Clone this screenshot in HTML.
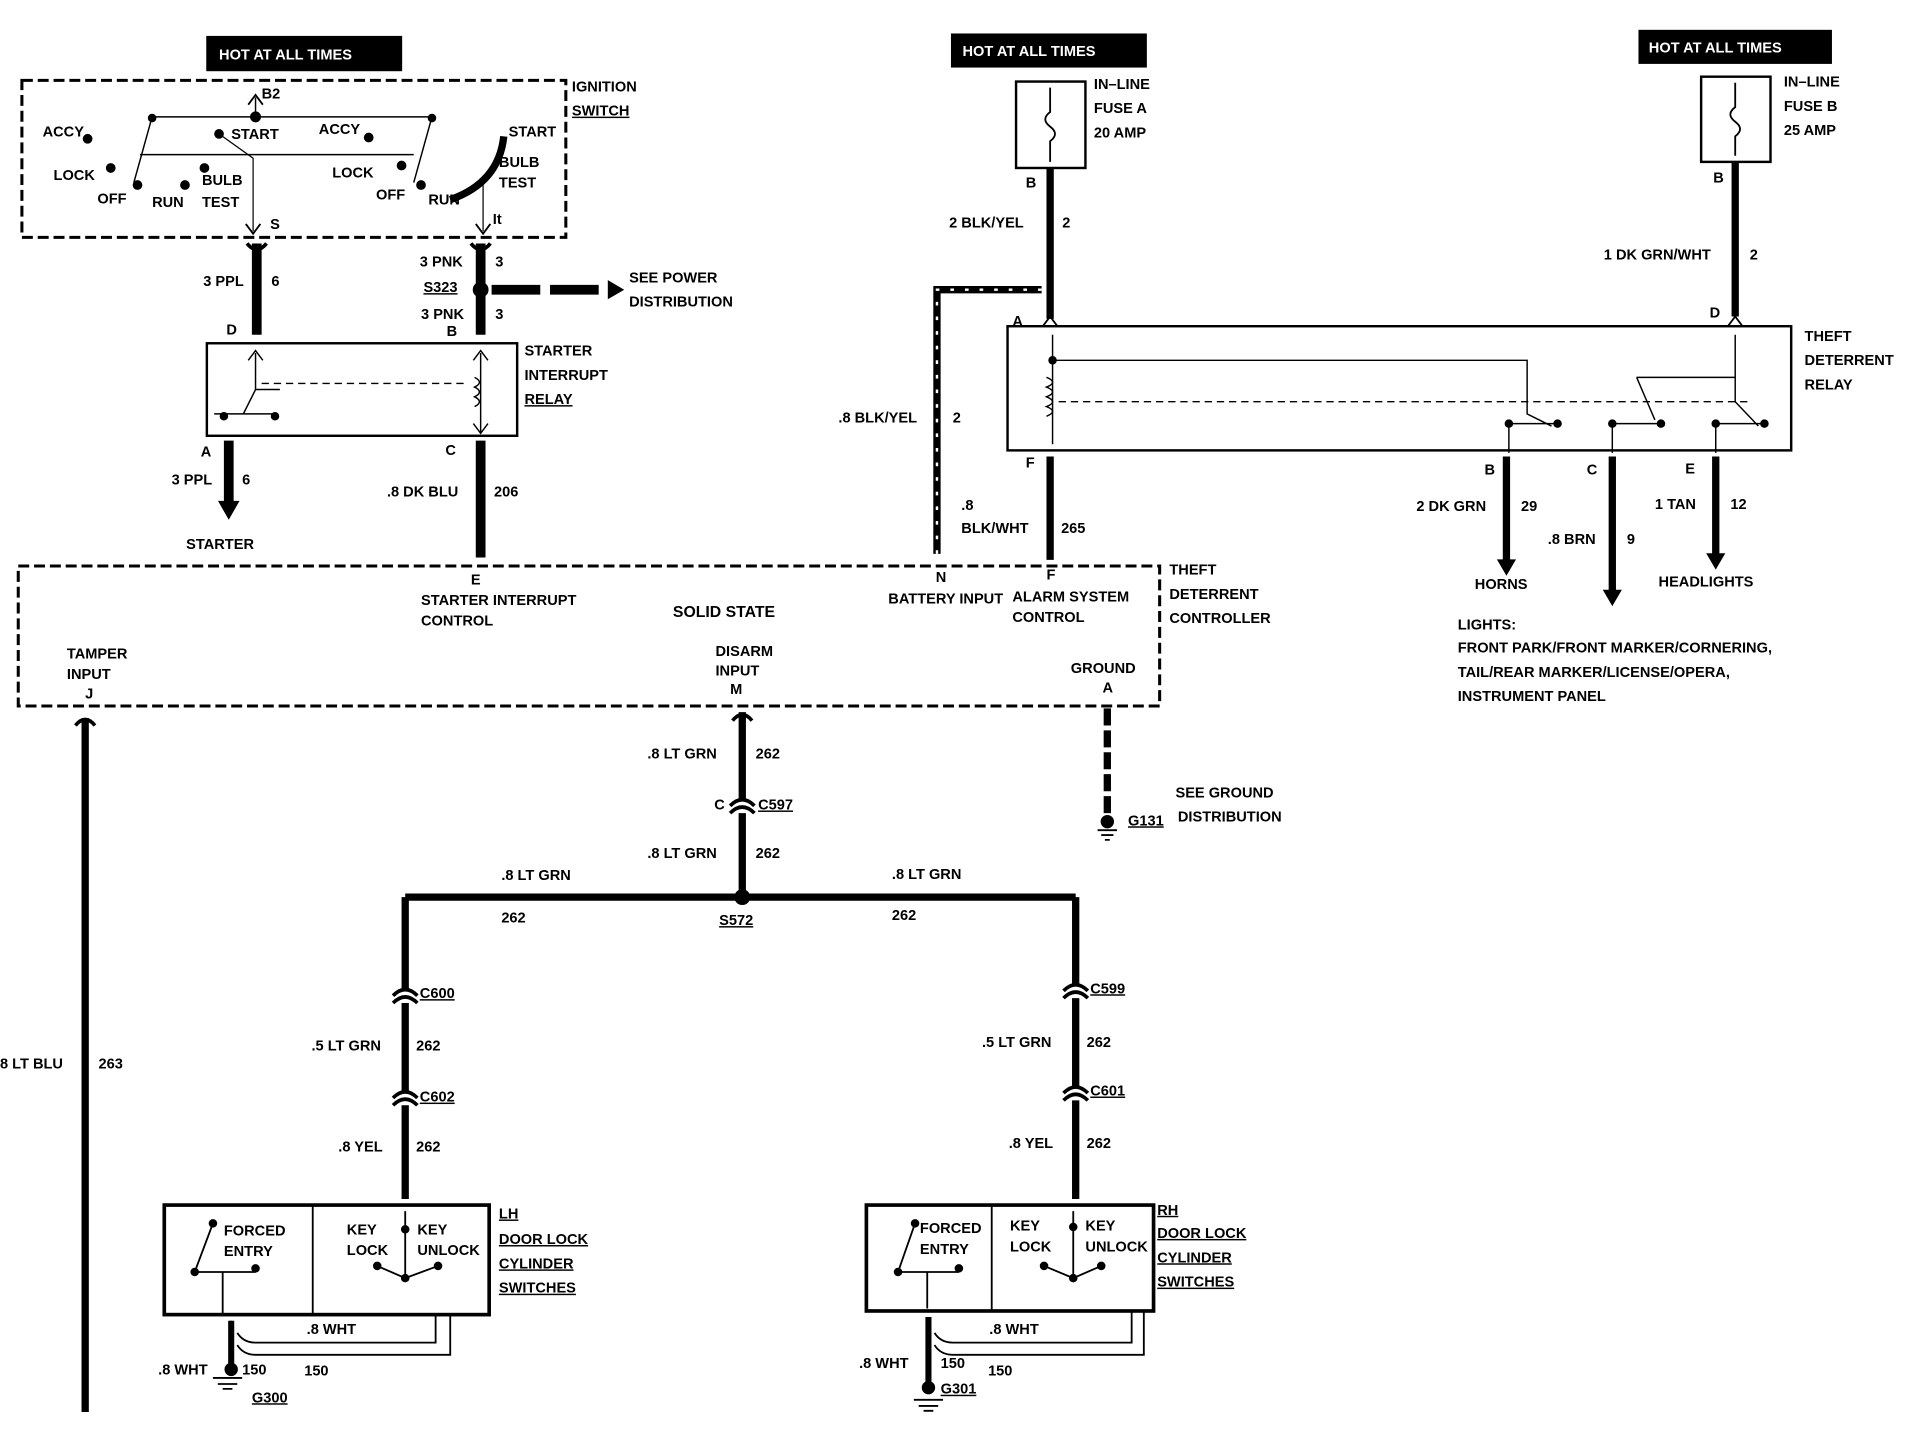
<!DOCTYPE html>
<html><head><meta charset="utf-8"><style>
html,body{margin:0;padding:0;background:#fff;}
svg{display:block}
text{font-family:"Liberation Sans",sans-serif;font-weight:bold;font-size:12px;fill:#000}
.u{text-decoration:underline}
</style></head><body>
<svg width="1908" height="1440" viewBox="0 0 1568 1183" preserveAspectRatio="none" xmlns="http://www.w3.org/2000/svg">
<g stroke="#000" fill="none">
<rect x="170" y="30" width="160" height="28" fill="#000"/>
<rect x="782" y="28" width="160" height="27" fill="#000"/>
<rect x="1347" y="25" width="158" height="27" fill="#000"/>
<rect x="18" y="66" width="447" height="129" stroke-width="2.5" stroke-dasharray="9,4"/>
<path d="M210 80 V96 M125 96 H355 M125 96 L110 150 M355 96 L340 150 M115 127 H340" stroke-width="1.2"/>
<path d="M204 86 L210 78 L216 86 M202 184 L208 192 L214 184 M391 184 L397 192 L403 184" stroke-width="1.5"/>
<path d="M180 110 L208 130 V190" stroke-width="1"/>
<path d="M414 112 Q410 150 370 164" stroke-width="6"/>
<path d="M397 150 V190" stroke-width="1"/>
<g fill="#000"><circle cx="210" cy="96" r="4"/><circle cx="125" cy="97" r="3"/><circle cx="355" cy="97" r="3"/><circle cx="72" cy="114" r="3.5"/><circle cx="91" cy="138" r="3.5"/><circle cx="113" cy="152" r="3.5"/><circle cx="152" cy="152" r="3.5"/><circle cx="168" cy="138" r="3.5"/><circle cx="180" cy="110" r="3.5"/><circle cx="303" cy="113" r="3.5"/><circle cx="330" cy="136" r="3.5"/><circle cx="346" cy="152" r="3.5"/></g>
<path d="M211 200 V275 M395 200 V275 M395 362 V458 M188 362 V415" stroke-width="8"/>
<path d="M203 200 Q211 210 219 200 M387 200 Q395 210 403 200" stroke-width="3"/>
<path d="M180 412 L188 426 L196 412 Z" fill="#000"/>
<path d="M404 238 H500" stroke-width="8" stroke-dasharray="40,8"/>
<path d="M500 231 L512 238 L500 245 Z" fill="#000"/>
<circle cx="395" cy="238" r="6" fill="#000"/>
<rect x="170" y="282" width="255" height="76" stroke-width="2"/>
<path d="M210 290 V320 L200 340 M210 320 H230 M176 340 H228 M395 290 V355" stroke-width="1.2"/>
<path d="M390 310 q8 4 0 8 q8 4 0 8 q8 4 0 8" stroke-width="1.2"/>
<path d="M204 296 L210 288 L216 296 M389 296 L395 288 L401 296 M389 348 L395 356 L401 348" stroke-width="1.2"/>
<path d="M215 315 H385" stroke-dasharray="6,4" stroke-width="1.2"/>
<circle cx="184" cy="342" r="3" fill="#000"/><circle cx="226" cy="342" r="3" fill="#000"/>
<rect x="15" y="465" width="938" height="115" stroke-width="2.5" stroke-dasharray="9,4"/>
<rect x="835" y="67" width="57" height="71" stroke-width="2"/>
<rect x="1398" y="63" width="57" height="70" stroke-width="2"/>
<path d="M863 72 V92 q-8 6 0 12 q8 6 0 12 V133 M1426 68 V88 q-8 6 0 12 q8 6 0 12 V128" stroke-width="1.5"/>
<path d="M863 138 V262 M1426 133 V260" stroke-width="6"/>
<path d="M856 238 H770 V455" stroke-width="6"/>
<path d="M856 238 H770 V455" stroke="#fff" stroke-width="2" stroke-dasharray="3,9"/>
<path d="M857 268 L863 260 L869 268 M1420 268 L1426 260 L1432 268" stroke-width="1.5"/>
<rect x="828" y="268" width="644" height="102" stroke-width="2"/>
<path d="M865 275 V365 M865 296 H1255 V340 L1275 350 M1426 275 V330 L1445 350 M1345 310 L1360 345 M1345 310 H1426 M1240 348 H1280 M1325 348 H1365 M1410 348 H1450 M1240 348 V372 M1325 348 V372 M1410 348 V372" stroke-width="1.2"/>
<path d="M860 310 q10 4 0 8 q10 4 0 8 q10 4 0 8 q10 4 0 8" stroke-width="1.2"/>
<path d="M870 330 H1440" stroke-width="1.2" stroke-dasharray="6,4"/>
<g fill="#000"><circle cx="865" cy="296" r="3"/><circle cx="1240" cy="348" r="3"/><circle cx="1280" cy="348" r="3"/><circle cx="1325" cy="348" r="3"/><circle cx="1365" cy="348" r="3"/><circle cx="1410" cy="348" r="3"/><circle cx="1450" cy="348" r="3"/></g>
<path d="M863 375 V460 M1238 375 V460 M1325 375 V485 M1410 375 V455" stroke-width="6"/>
<path d="M1231 460 L1238 472 L1245 460 Z M1318 485 L1325 497 L1332 485 Z M1403 455 L1410 467 L1417 455 Z" fill="#000"/>
<path d="M70 590 V1160 M610 585 V737 M333 737 H884 M333 737 V985 M884 737 V985" stroke-width="6"/>
<path d="M62 596 Q70 586 78 596 M602 592 Q610 582 618 592" stroke-width="3"/>
<path d="M910 582 V678" stroke-width="6" stroke-dasharray="14,4"/>
<g fill="#fff" stroke-width="3">
<path d="M600 662 Q610 652 620 662 M600 668 Q610 658 620 668"/>
<path d="M323 818 Q333 808 343 818 M323 824 Q333 814 343 824"/>
<path d="M323 902 Q333 892 343 902 M323 908 Q333 898 343 908"/>
<path d="M874 814 Q884 804 894 814 M874 820 Q884 810 894 820"/>
<path d="M874 898 Q884 888 894 898 M874 904 Q884 894 894 904"/>
</g>
<circle cx="610" cy="737" r="6" fill="#000"/>
<circle cx="910" cy="675" r="5" fill="#000"/>
<path d="M902 682 H918 M905 686 H915 M908 690 H912 M175 1132 H199 M179 1137 H195 M183 1141 H191 M751 1150 H775 M755 1155 H771 M759 1159 H767" stroke-width="1.5"/>
<rect x="135" y="990" width="267" height="90" stroke-width="3"/>
<path d="M257 990 V1080" stroke-width="1.5"/>
<rect x="712" y="990" width="236" height="87" stroke-width="3"/>
<path d="M815 990 V1077" stroke-width="1.5"/>
<path d="M190 1085 V1125 M195 1095 Q200 1103 210 1103 H358 V1080 M195 1105 Q200 1113 210 1113 H370 V1080" stroke-width="1.5"/>
<path d="M190 1085 V1125" stroke-width="5"/>
<path d="M763 1082 V1142 M768 1095 Q773 1103 783 1103 H930 V1077 M768 1105 Q773 1113 783 1113 H940 V1077" stroke-width="1.5"/>
<path d="M763 1082 V1142" stroke-width="5"/>
<circle cx="190" cy="1125" r="5" fill="#000"/><circle cx="763" cy="1140" r="5" fill="#000"/>
<path d="M160 1045 L175 1005 M160 1045 H210 M183 1045 V1080 M333 995 V1050 M310 1040 L333 1050 L360 1040 M738 1045 L752 1005 M738 1045 H788 M762 1045 V1075 M882 995 V1050 M858 1040 L882 1050 L905 1040" stroke-width="1.5"/>
<g fill="#000"><circle cx="175" cy="1005" r="3"/><circle cx="160" cy="1045" r="3"/><circle cx="210" cy="1042" r="3"/><circle cx="333" cy="1010" r="3"/><circle cx="333" cy="1050" r="3"/><circle cx="310" cy="1040" r="3"/><circle cx="360" cy="1040" r="3"/><circle cx="752" cy="1005" r="3"/><circle cx="738" cy="1045" r="3"/><circle cx="788" cy="1042" r="3"/><circle cx="882" cy="1008" r="3"/><circle cx="882" cy="1050" r="3"/><circle cx="858" cy="1040" r="3"/><circle cx="905" cy="1040" r="3"/></g>
</g>
<g style="font-size:13px">
<text x="180" y="49" style="fill:#fff">HOT AT ALL TIMES</text>
<text x="791" y="46" style="fill:#fff">HOT AT ALL TIMES</text>
<text x="1355" y="43" style="fill:#fff">HOT AT ALL TIMES</text>
</g>
<text x="470" y="75">IGNITION</text><text x="470" y="95" class="u">SWITCH</text>
<text x="215" y="81">B2</text>
<text x="35" y="112">ACCY</text><text x="44" y="148">LOCK</text><text x="80" y="167">OFF</text><text x="125" y="170">RUN</text><text x="166" y="152">BULB</text><text x="166" y="170">TEST</text><text x="190" y="114">START</text>
<text x="262" y="110">ACCY</text><text x="273" y="146">LOCK</text><text x="309" y="164">OFF</text><text x="352" y="168">RUN</text><text x="410" y="137">BULB</text><text x="410" y="154">TEST</text><text x="418" y="112">START</text>
<text x="222" y="188">S</text><text x="405" y="184">It</text>
<text x="167" y="235">3 PPL</text><text x="223" y="235">6</text>
<text x="345" y="219">3 PNK</text><text x="407" y="219">3</text>
<text x="348" y="240" class="u">S323</text>
<text x="346" y="262">3 PNK</text><text x="407" y="262">3</text>
<text x="517" y="232">SEE POWER</text><text x="517" y="252">DISTRIBUTION</text>
<text x="186" y="275">D</text><text x="367" y="276">B</text>
<text x="431" y="292">STARTER</text><text x="431" y="312">INTERRUPT</text><text x="431" y="332" class="u">RELAY</text>
<text x="165" y="375">A</text><text x="366" y="374">C</text>
<text x="141" y="398">3 PPL</text><text x="199" y="398">6</text>
<text x="153" y="451">STARTER</text>
<text x="318" y="408">.8 DK BLU</text><text x="406" y="408">206</text>
<text x="899" y="73">IN–LINE</text><text x="899" y="93">FUSE A</text><text x="899" y="113">20 AMP</text>
<text x="1466" y="71">IN–LINE</text><text x="1466" y="91">FUSE B</text><text x="1466" y="111">25 AMP</text>
<text x="843" y="154">B</text><text x="1408" y="150">B</text>
<text x="780" y="187">2 BLK/YEL</text><text x="873" y="187">2</text>
<text x="1318" y="213">1 DK GRN/WHT</text><text x="1438" y="213">2</text>
<text x="832" y="268">A</text><text x="1405" y="261">D</text>
<text x="1483" y="280">THEFT</text><text x="1483" y="300">DETERRENT</text><text x="1483" y="320">RELAY</text>
<text x="689" y="347">.8 BLK/YEL</text><text x="783" y="347">2</text>
<text x="843" y="384">F</text><text x="1220" y="390">B</text><text x="1304" y="390">C</text><text x="1385" y="389">E</text>
<text x="790" y="419">.8</text><text x="790" y="438">BLK/WHT</text><text x="872" y="438">265</text>
<text x="1164" y="420">2 DK GRN</text><text x="1250" y="420">29</text>
<text x="1272" y="447">.8 BRN</text><text x="1337" y="447">9</text>
<text x="1360" y="418">1 TAN</text><text x="1422" y="418">12</text>
<text x="1212" y="484">HORNS</text><text x="1363" y="482">HEADLIGHTS</text>
<text x="1198" y="517">LIGHTS:</text><text x="1198" y="536">FRONT PARK/FRONT MARKER/CORNERING,</text><text x="1198" y="556">TAIL/REAR MARKER/LICENSE/OPERA,</text><text x="1198" y="576">INSTRUMENT PANEL</text>
<text x="961" y="472">THEFT</text><text x="961" y="492">DETERRENT</text><text x="961" y="512">CONTROLLER</text>
<g style="font-size:11px">
<text x="387" y="480">E</text><text x="346" y="497">STARTER INTERRUPT</text><text x="346" y="514">CONTROL</text>
<text x="769" y="478">N</text><text x="730" y="496">BATTERY INPUT</text>
<text x="860" y="476">F</text><text x="832" y="494">ALARM SYSTEM</text><text x="832" y="511">CONTROL</text>
<text x="55" y="541">TAMPER</text><text x="55" y="558">INPUT</text><text x="70" y="574">J</text>
<text x="588" y="539">DISARM</text><text x="588" y="555">INPUT</text><text x="600" y="570">M</text>
<text x="880" y="553">GROUND</text><text x="906" y="569">A</text>
</g>
<text x="553" y="507" style="font-size:13px">SOLID STATE</text>
<text x="532" y="623">.8 LT GRN</text><text x="621" y="623">262</text>
<text x="587" y="665">C</text><text x="623" y="665" class="u">C597</text>
<text x="532" y="705">.8 LT GRN</text><text x="621" y="705">262</text>
<text x="966" y="655">SEE GROUND</text><text x="968" y="675">DISTRIBUTION</text>
<text x="927" y="678" class="u">G131</text>
<text x="412" y="723">.8 LT GRN</text><text x="412" y="758">262</text>
<text x="733" y="722">.8 LT GRN</text><text x="733" y="756">262</text>
<text x="591" y="760" class="u">S572</text>
<text x="345" y="820" class="u">C600</text><text x="896" y="816" class="u">C599</text>
<text x="256" y="863">.5 LT GRN</text><text x="342" y="863">262</text>
<text x="807" y="860">.5 LT GRN</text><text x="893" y="860">262</text>
<text x="345" y="905" class="u">C602</text><text x="896" y="900" class="u">C601</text>
<text x="278" y="946">.8 YEL</text><text x="342" y="946">262</text>
<text x="829" y="943">.8 YEL</text><text x="893" y="943">262</text>
<text x="0" y="878">8 LT BLU</text><text x="81" y="878">263</text>
<text x="410" y="1001" class="u">LH</text><text x="410" y="1022" class="u">DOOR LOCK</text><text x="410" y="1042" class="u">CYLINDER</text><text x="410" y="1062" class="u">SWITCHES</text>
<text x="951" y="998" class="u">RH</text><text x="951" y="1017" class="u">DOOR LOCK</text><text x="951" y="1037" class="u">CYLINDER</text><text x="951" y="1057" class="u">SWITCHES</text>
<g style="font-size:11px">
<text x="184" y="1015">FORCED</text><text x="184" y="1032">ENTRY</text><text x="285" y="1014">KEY</text><text x="285" y="1031">LOCK</text><text x="343" y="1014">KEY</text><text x="343" y="1031">UNLOCK</text>
<text x="756" y="1013">FORCED</text><text x="756" y="1030">ENTRY</text><text x="830" y="1011">KEY</text><text x="830" y="1028">LOCK</text><text x="892" y="1011">KEY</text><text x="892" y="1028">UNLOCK</text>
</g>
<text x="252" y="1096">.8 WHT</text><text x="130" y="1129">.8 WHT</text><text x="199" y="1129">150</text><text x="250" y="1130">150</text>
<text x="207" y="1152" class="u">G300</text>
<text x="813" y="1096">.8 WHT</text><text x="706" y="1124">.8 WHT</text><text x="773" y="1124">150</text><text x="812" y="1130">150</text>
<text x="773" y="1145" class="u">G301</text>
</svg>
</body></html>
